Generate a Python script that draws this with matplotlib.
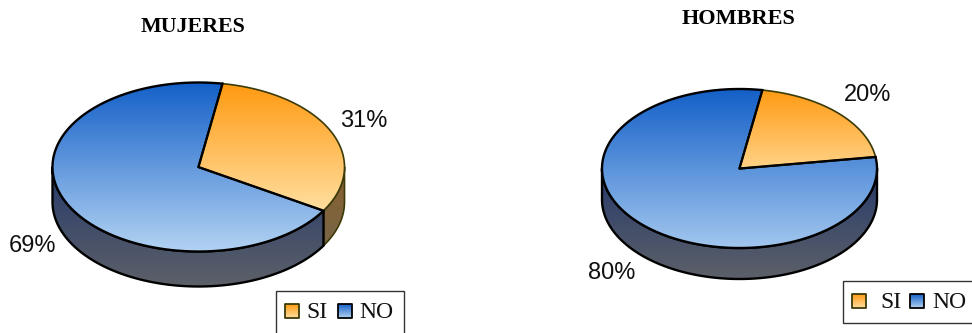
import numpy as np
import matplotlib
matplotlib.use('Agg')
from matplotlib import pyplot as plt
from matplotlib.patches import Polygon, Rectangle
from matplotlib.colors import LinearSegmentedColormap

# values
categories = ['SI', 'NO']
mujeres = [31, 69]
hombres = [20, 80]

ORANGE = ['#ff9a12', '#ffdfa0']
ORANGE_SHORT = ['#ff9a12', '#ffd286']
BLUE = ['#1460c8', '#b2d2f2']
BLUE_SHORT = ['#1460c8', '#a2c6ee']
ORANGE_SIDE = ['#8a5f2c', '#6e6a56']
BLUE_SIDE = ['#26396a', '#5c6068']

SERIF = 'Liberation Serif'
SANS = 'Liberation Sans'

fig = plt.figure(figsize=(9.72, 3.33), dpi=100)
ax = fig.add_axes([0, 0, 1, 1])
ax.set_xlim(0, 972)
ax.set_ylim(333, 0)
ax.axis('off')


def grad(pts, colors, y0, y1, edge='black', lw=1.7, z=2):
    # gradient image clipped by a polygon
    cmap = LinearSegmentedColormap.from_list('g', colors)
    xs = pts[:, 0]
    im = ax.imshow(np.linspace(0, 1, 128).reshape(-1, 1), cmap=cmap, aspect='auto',
                   extent=(xs.min() - 2, xs.max() + 2, y1, y0), zorder=z, interpolation='bilinear')
    poly = Polygon(pts, closed=True, fc='none', ec=edge, lw=lw, zorder=z + 0.5, joinstyle='round')
    ax.add_patch(poly)
    im.set_clip_path(poly)


def rim(cx, cy, rx, ry, t):
    # t is degrees clockwise from the top of the ellipse
    r = np.radians(t)
    return np.column_stack([cx + rx * np.sin(r), cy - ry * np.cos(r)])


def pie3d(values, cx, cy, rx, ry, depth, start, si_cols, no_cols):
    end = start + values[0] * 3.6
    # side walls, only the front half of the pie shows
    if end > 90:
        a = rim(cx, cy, rx, ry, np.linspace(90, end, 40))
        grad(np.vstack([a, (a + [0, depth])[::-1]]), ORANGE_SIDE, cy, cy + ry + depth,
             edge='#3c3a08', lw=1.2)
    a = rim(cx, cy, rx, ry, np.linspace(max(end, 90), 270, 160))
    grad(np.vstack([a, (a + [0, depth])[::-1]]), BLUE_SIDE, cy, cy + ry + depth)
    # top faces, the gradient of each slice runs over its own height
    no = rim(cx, cy, rx, ry, np.linspace(end, start + 360, 300))
    grad(np.vstack([[cx, cy], no]), no_cols, cy - ry, cy + ry, z=4)
    si = rim(cx, cy, rx, ry, np.linspace(start, end, 120))
    pts = np.vstack([[cx, cy], si])
    grad(pts, si_cols, pts[:, 1].min(), pts[:, 1].max(), edge='#3c3a08', lw=1.2, z=5)
    # black spokes over the olive outline
    ax.plot([si[0, 0], cx, si[-1, 0]], [si[0, 1], cy, si[-1, 1]], color='black', lw=1.6, zorder=6)


def legend(x0, y0, x1, y1, sw, tx):
    ax.add_patch(Rectangle((x0, y0), x1 - x0, y1 - y0, fc='white', ec='#333333', lw=1, zorder=7))
    ymid = y0 + 20
    cols = [ORANGE, BLUE]
    eds = ['#3c3a08', 'black']
    for i, name in enumerate(categories):
        pts = np.array([[sw[i], ymid - 7], [sw[i] + 14, ymid - 7], [sw[i] + 14, ymid + 7], [sw[i], ymid + 7]])
        grad(pts, cols[i], ymid - 7, ymid + 7, edge=eds[i], lw=1.3, z=8)
        ax.text(tx[i], ymid + 1, name, family=SERIF, fontsize=17, va='center', ha='left', zorder=9, color='#111111')


pie3d(mujeres, 198.5, 167, 146, 84.5, 35, 9.5, ORANGE, BLUE)
pie3d(hombres, 739.5, 168.5, 137.5, 79.5, 31, 9.6, ORANGE_SHORT, BLUE_SHORT)

ax.text(193, 27, 'MUJERES', family=SERIF, fontweight='bold', fontsize=15.8, ha='center', va='center')
ax.text(739, 19.5, 'HOMBRES', family=SERIF, fontweight='bold', fontsize=16, ha='center', va='center')

label_style = dict(family=SANS, fontsize=17, ha='center', va='center', color='#111111')
ax.text(363.5, 121, '%d%%' % mujeres[0], **label_style)
ax.text(32.5, 246, '%d%%' % mujeres[1], **label_style)
ax.text(868, 95, '%d%%' % hombres[0], **label_style)
ax.text(612, 273, '%d%%' % hombres[1], **label_style)

legend(275.5, 291, 404, 345, (285, 338), (306, 359))
legend(842.5, 281, 985, 323, (852, 910), (880, 932))

ax.set_xlim(0, 972)
ax.set_ylim(333, 0)
fig.savefig('out.png', dpi=100)
